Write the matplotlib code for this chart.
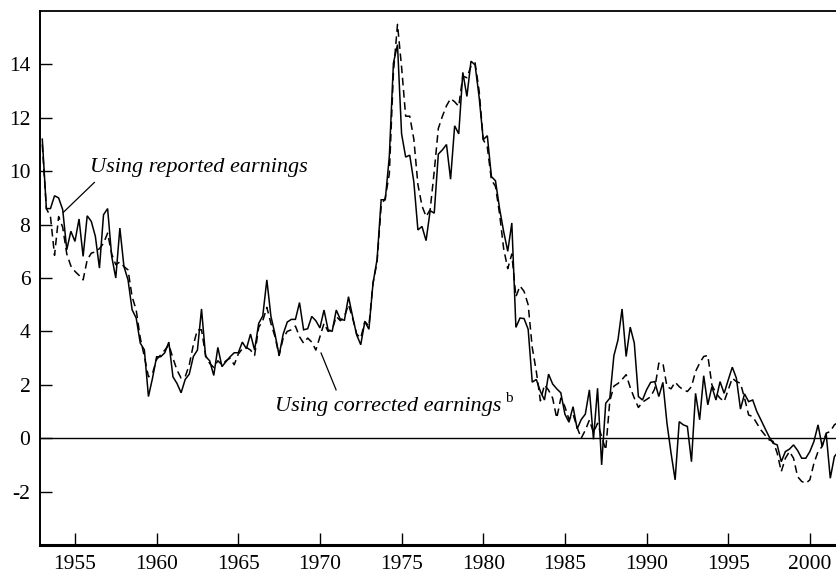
import numpy as np
import matplotlib
matplotlib.use("Agg")
import matplotlib.pyplot as plt

plt.rcParams['font.family'] = ['Liberation Serif', 'DejaVu Serif']
plt.rcParams['axes.unicode_minus'] = False

start_year = 1953.0
reported = [
    11.2, 8.6, 8.6, 9.08,
    9.0, 8.56, 7.06, 7.75,
    7.37, 8.21, 6.81, 8.33,
    8.12, 7.56, 6.37, 8.37,
    8.6, 6.81, 6.0, 7.87,
    6.43, 5.93, 4.81, 4.5,
    3.56, 3.31, 1.56, 2.25,
    3.05, 3.05, 3.2, 3.6,
    2.3, 2.05, 1.7, 2.2,
    2.4, 3.06, 3.3, 4.84,
    3.06, 2.9, 2.35, 3.4,
    2.68, 2.87, 3.05, 3.2,
    3.2, 3.6, 3.35, 3.9,
    3.3, 4.3, 4.58, 5.93,
    4.56, 3.9, 3.1, 3.9,
    4.35, 4.45, 4.45, 5.08,
    4.06, 4.1, 4.56, 4.4,
    4.13, 4.8, 4.06, 4.0,
    4.8, 4.45, 4.42, 5.3,
    4.56, 3.87, 3.5, 4.37,
    4.08, 5.8, 6.7, 8.93,
    8.93, 10.56, 14.05, 14.74,
    11.4, 10.53, 10.6, 9.6,
    7.8, 7.93, 7.4, 8.52,
    8.43, 10.64, 10.8, 11.0,
    9.7, 11.7, 11.4, 13.7,
    12.8, 14.12, 13.98, 12.77,
    11.18, 11.33, 9.8, 9.64,
    8.6, 7.74, 7.0, 8.06,
    4.15, 4.5, 4.48, 4.08,
    2.1, 2.2, 1.75, 1.43,
    2.4, 2.03, 1.85, 1.7,
    0.9, 0.6, 1.18, 0.35,
    0.7, 0.9, 1.81, -0.04,
    1.87, -1.0, 1.31, 1.5,
    3.09, 3.68, 4.84, 3.06,
    4.16, 3.56, 1.56, 1.43,
    1.81, 2.09, 2.12, 1.56,
    2.09, 0.56, -0.56, -1.56,
    0.62, 0.5, 0.44, -0.88,
    1.68, 0.69, 2.34, 1.25,
    1.93, 1.43, 2.12, 1.68,
    2.18, 2.66, 2.25, 1.09,
    1.66, 1.37, 1.43, 1.0,
    0.69, 0.37, 0.06, -0.19,
    -0.25, -0.88, -0.5, -0.41,
    -0.25, -0.46, -0.75, -0.75,
    -0.5, -0.12, 0.5, -0.31,
    0.16, -1.5, -0.69, -0.5,
]
corrected = [
    11.0, 8.6, 8.3, 6.85,
    8.3, 7.9, 6.9, 6.45,
    6.25, 6.1, 5.93, 6.68,
    6.93, 6.98, 7.1, 7.3,
    7.68, 6.9, 6.5, 6.6,
    6.43, 6.3, 5.3, 4.8,
    3.75, 3.06, 2.3, 2.43,
    2.95, 3.12, 3.3, 3.5,
    3.0, 2.55, 2.25, 2.3,
    2.75, 3.5, 4.06, 4.06,
    3.1, 2.8, 2.65, 2.9,
    2.75, 2.9, 3.0, 2.75,
    3.15, 3.35, 3.4, 3.3,
    3.1, 4.15, 4.4, 4.9,
    4.3, 3.8, 3.1, 3.75,
    4.0, 4.06, 4.2, 3.8,
    3.56, 3.75, 3.6, 3.3,
    3.8, 4.3, 4.0, 4.06,
    4.56, 4.4, 4.56, 5.0,
    4.5, 3.9, 3.75, 4.37,
    4.2, 5.8, 6.6, 8.7,
    9.0, 9.9, 13.7, 15.5,
    13.9, 12.06, 12.06, 11.2,
    9.5, 8.7, 8.3, 8.56,
    10.0, 11.6, 12.06, 12.45,
    12.72, 12.6, 12.43, 13.56,
    13.5, 13.93, 14.06, 13.0,
    11.18, 10.9, 9.68, 9.43,
    8.4, 7.1, 6.35, 6.9,
    5.3, 5.7, 5.5, 5.0,
    3.4, 2.5, 1.4, 2.0,
    1.8, 1.5, 0.75, 1.5,
    1.18, 0.7, 0.9, 0.4,
    0.0, 0.3, 0.68, 0.21,
    0.56, 0.06, -0.44, 1.4,
    1.95, 2.05, 2.2, 2.38,
    1.9, 1.5, 1.15, 1.35,
    1.45, 1.55, 1.85, 2.81,
    2.81, 1.93, 1.85, 2.1,
    1.93, 1.81, 1.75, 1.93,
    2.5, 2.81, 3.06, 3.1,
    2.0, 1.68, 1.5, 1.37,
    1.81, 2.25, 2.12, 2.06,
    1.5, 0.87, 0.81, 0.56,
    0.31, 0.12, -0.06, -0.12,
    -0.56, -1.25, -0.75, -0.5,
    -0.75, -1.44, -1.62, -1.69,
    -1.56, -0.94, -0.5, -0.31,
    0.19, 0.25, 0.5, 0.6,
]
x_ticks = [1955, 1960, 1965, 1970, 1975, 1980, 1985, 1990, 1995, 2000]
y_ticks = [-2, 0, 2, 4, 6, 8, 10, 12, 14]
label_reported = "Using reported earnings"
label_corrected = "Using corrected earnings"
label_note = "b"

t = start_year + 0.25 * np.arange(len(reported))

fig = plt.figure(figsize=(8.36, 5.75), dpi=100)
ax = fig.add_axes([40/836, 30/575, 796/836, 534/575])

ax.plot(t, reported, color='black', lw=1.1, solid_joinstyle='miter')
ax.plot(t, corrected, color='black', lw=1.1, linestyle=(0, (5, 3)))
ax.axhline(0, color='black', lw=1.0)

ax.set_xlim(1952.86, 2001.6)
ax.set_ylim(-4, 16)
ax.set_xticks(x_ticks)
ax.set_yticks(y_ticks)
ax.tick_params(direction='in', length=8.5, width=1.0, labelsize=15.5, colors='black')
ax.tick_params(axis='y', pad=7)
ax.tick_params(axis='x', pad=7)
ax.spines['right'].set_visible(False)
ax.spines['bottom'].set_linewidth(2.2)
ax.spines['left'].set_linewidth(1.4)
ax.spines['top'].set_linewidth(1.3)

ax.text(1955.92, 9.98, label_reported, style='italic', fontsize=16, va='baseline', ha='left')
ax.plot([1956.19, 1954.29], [9.58, 8.46], color='black', lw=0.9)

tc = ax.text(1967.25, 1.0, label_corrected, style='italic', fontsize=16, va='baseline', ha='left')
ax.annotate(label_note, xy=(1.0, 0.0), xycoords=tc, xytext=(2.5, 10.5), textcoords='offset points',
            fontsize=11, va='baseline', ha='left')
ax.plot([1970.07, 1970.99], [3.19, 1.81], color='black', lw=0.9)

fig.savefig('out.png', dpi=100)
